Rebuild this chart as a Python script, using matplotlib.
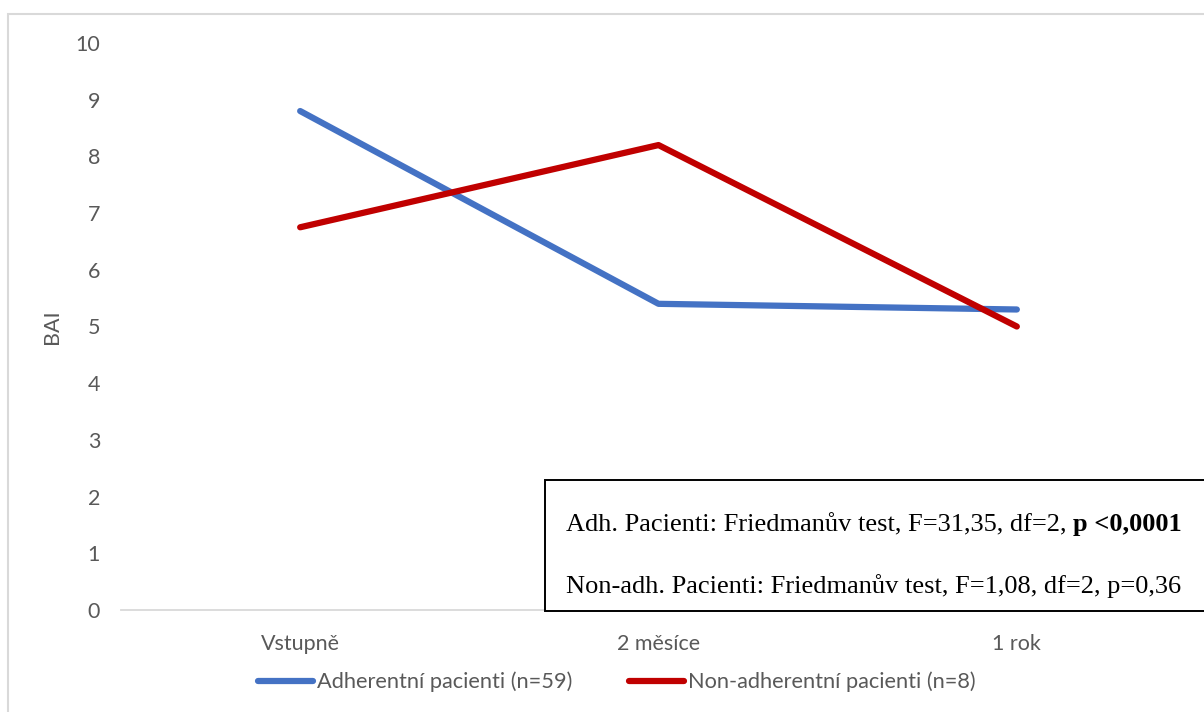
import matplotlib.pyplot as plt
from matplotlib.patches import Rectangle

kategorie = ["Vstupně", "2 měsíce", "1 rok"]
adherentni = [8.8, 5.4, 5.3]
nonAdherentni = [6.75, 8.2, 5.0]
popisY = "BAI"
legendaAdh = "Adherentní pacienti (n=59)"
legendaNon = "Non-adherentní pacienti (n=8)"
radek1 = "Adh. Pacienti: Friedmanův test, F=31,35, df=2, "
radek1Tucne = "p <0,0001"
radek2 = "Non-adh. Pacienti: Friedmanův test, F=1,08, df=2, p=0,36"

W, H = 1204, 712
sedaText = "#595959"
plt.rcParams["font.family"] = ["Lato", "DejaVu Sans"]

fig = plt.figure(figsize=(W / 100, H / 100), dpi=100)
# vnejsi ramecek grafu
fig.patches.append(Rectangle((8 / W, -0.1), 1.2, (H - 14) / H + 0.1, transform=fig.transFigure,
                             fill=False, edgecolor="#d9d9d9", linewidth=1.5))

ax = fig.add_axes([121 / W, 1 - 610 / H, (1196 - 121) / W, (610 - 43) / H])
x = range(len(kategorie))
ax.plot(x, adherentni, color="#4472c4", linewidth=4.5, solid_capstyle="round", label=legendaAdh)
ax.plot(x, nonAdherentni, color="#c00000", linewidth=4.5, solid_capstyle="round", label=legendaNon)

ax.set_xlim(-0.5, len(kategorie) - 0.5)
ax.set_ylim(0, 10)
ax.set_yticks(range(0, 11))
ax.set_xticks(list(x))
ax.set_xticklabels(kategorie)
ax.tick_params(length=0, labelsize=15.5, colors=sedaText)
ax.tick_params(axis="y", pad=15)
ax.tick_params(axis="x", pad=17)
for s in ["top", "right", "left"]:
    ax.spines[s].set_visible(False)
ax.spines["bottom"].set_color("#d9d9d9")
ax.spines["bottom"].set_linewidth(1.3)
fig.text(52 / W, 1 - 327 / H, popisY, rotation=90, ha="center", va="center", fontsize=15.5, color=sedaText)

fig.legend(loc="center", bbox_to_anchor=(617 / W, 1 - 682 / H), ncol=2, frameon=False,
           fontsize=15.7, labelcolor=sedaText, handlelength=2.5, handletextpad=0.2, columnspacing=2.6)

# ramecek se statistikou
fig.patches.append(Rectangle((545 / W, 1 - 611 / H), (1230 - 545) / W, (611 - 480) / H,
                             transform=fig.transFigure, fill=True, facecolor="white",
                             edgecolor="black", linewidth=1.4, zorder=5))
pismo = dict(fontsize=19, family="Liberation Serif", color="black", zorder=6, ha="left", va="baseline")
t1 = fig.text(566 / W, 1 - 531 / H, radek1, **pismo)
fig.text(566 / W, 1 - 593 / H, radek2, **pismo)
fig.canvas.draw()
okraj = t1.get_window_extent()
fig.text(okraj.x1 / W, 1 - 531 / H, radek1Tucne, fontweight="bold", **pismo)

fig.savefig("out.png", dpi=100)
